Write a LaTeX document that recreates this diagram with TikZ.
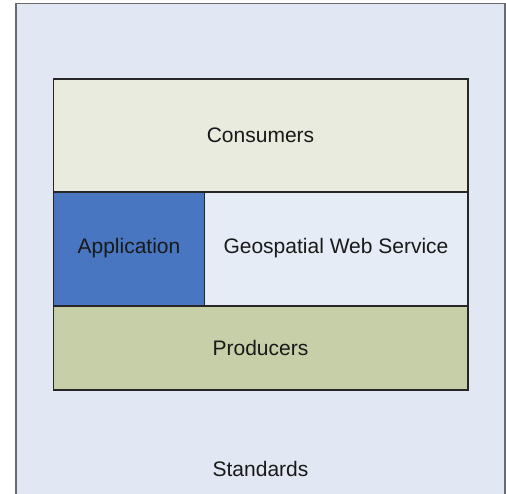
\documentclass[tikz,border=0pt]{standalone}
\usepackage{fontspec}
\setmainfont{Liberation Sans}
\definecolor{outerbg}{HTML}{E1E8F3}
\definecolor{consbg}{HTML}{E9EBDF}
\definecolor{appbg}{HTML}{4876C0}
\definecolor{geobg}{HTML}{E6ECF6}
\definecolor{prodbg}{HTML}{C7CFA8}
\definecolor{outerline}{HTML}{6A6A6A}
\tikzset{
  box/.style={draw=black!85, line width=1.1pt},
  lbl/.style={font=\fontsize{21}{24}\selectfont, text=black!90, inner sep=0pt},
}
\begin{document}
\begin{tikzpicture}[x=1pt,y=-1pt]
\useasboundingbox (0,0) rectangle (506,493);
\begin{scope}
\clip (0,0) rectangle (506,493);
\fill[outerbg] (16,3.5) rectangle (505,510);
\draw[outerline, line width=1.8pt] (16,520) -- (16,3.5) -- (505,3.5) -- (505,520);
\end{scope}
\fill[consbg] (53.5,79) rectangle (468,192);
\fill[appbg] (53.5,192) rectangle (204.5,306);
\fill[geobg] (204.5,192) rectangle (468,306);
\fill[prodbg] (53.5,306) rectangle (468,390);
\draw[box] (53.5,79) rectangle (468,192);
\draw[box] (53.5,192) rectangle (204.5,306);
\draw[box] (204.5,192) rectangle (468,306);
\draw[box] (53.5,306) rectangle (468,390);
\node[lbl] (cons) at (260.5,135) {Consumers};
\node[lbl] (app) at (129,248) {Application};
\node[lbl] (geo) at (336,248) {Geospatial Web Service};
\node[lbl] (prod) at (260.5,348) {Producers};
\node[lbl] (std) at (260.5,469) {Standards};
\end{tikzpicture}
\end{document}
